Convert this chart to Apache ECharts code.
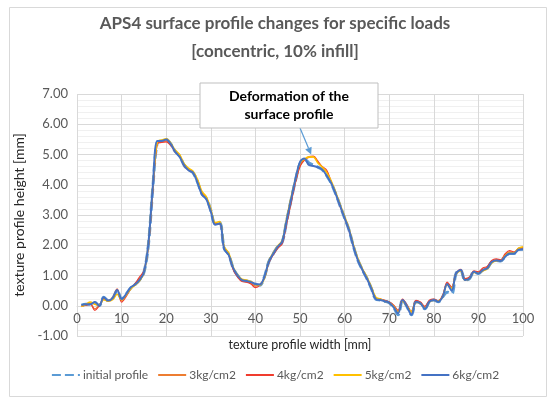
<!DOCTYPE html>
<html><head><meta charset="utf-8">
<script src="https://cdn.jsdelivr.net/npm/echarts@6/dist/echarts.min.js"></script>
<style>html,body{margin:0;padding:0;background:#fff}#c{width:550px;height:399px}</style>
</head><body><div id="c"></div>
<script>
const titleLines = ["APS4 surface profile changes for specific loads", "[concentric, 10% infill]"];
const xName = "texture profile width [mm]";
const yName = "texture profile height [mm]";
const seriesNames = ["initial profile", "3kg/cm2", "4kg/cm2", "5kg/cm2", "6kg/cm2"];
const annotationText = ["Deformation of the", "surface profile"];
const annotationPoint = [52.5, 5.0];

const widthMm = [1,2,3,4,5,6,7,8,9,10,11,12,13,14,15,16,17,18,19,20,21,22,23,24,25,26,27,28,29,30,31,32,33,34,35,36,37,38,39,40,41,42,43,44,45,46,47,48,49,50,51,52,53,54,55,56,57,58,59,60,61,62,63,64,65,66,67,68,69,70,71,72,73,74,75,76,77,78,79,80,81,82,83,84,85,86,87,88,89,90,91,92,93,94,95,96,97,98,99,100];

const initialProfile = [0.02,0.05,0.05,0.10,0.00,0.28,0.17,0.25,0.50,0.22,0.38,0.58,0.70,0.85,1.10,2.00,3.90,5.40,5.45,5.50,5.35,5.10,4.95,4.65,4.50,4.40,4.10,3.70,3.55,3.15,2.70,2.75,1.90,1.70,1.25,1.00,0.85,0.82,0.78,0.72,0.68,0.95,1.45,1.72,1.95,2.10,2.80,3.50,4.15,4.70,4.85,4.72,4.65,4.58,4.50,4.30,4.05,3.70,3.30,2.90,2.50,1.95,1.50,1.18,0.90,0.57,0.22,0.19,0.15,0.10,-0.05,-0.30,0.19,-0.03,-0.30,0.13,0.08,-0.10,0.13,0.19,0.13,0.30,0.45,0.40,1.07,1.18,0.85,0.90,1.12,1.07,1.18,1.24,1.45,1.50,1.48,1.62,1.73,1.73,1.87,1.87];

const load3 = [0.00,0.03,0.08,-0.10,0.02,0.25,0.18,0.28,0.55,0.18,0.35,0.58,0.72,0.90,1.12,1.95,3.85,5.38,5.42,5.45,5.35,5.12,4.98,4.68,4.52,4.42,4.15,3.75,3.58,3.18,2.72,2.72,1.92,1.72,1.22,0.98,0.82,0.80,0.75,0.65,0.70,0.90,1.40,1.70,1.92,2.08,2.72,3.42,4.10,4.62,4.82,4.90,4.92,4.75,4.58,4.42,4.08,3.72,3.32,2.92,2.52,1.98,1.52,1.20,0.92,0.60,0.25,0.22,0.17,0.12,0.00,-0.18,0.20,0.00,-0.22,0.15,0.10,-0.05,0.15,0.20,0.15,0.32,0.75,0.60,1.05,1.17,0.88,0.92,1.10,1.10,1.20,1.28,1.48,1.52,1.50,1.68,1.78,1.75,1.88,1.90];

const load4 = [-0.02,0.02,0.05,-0.15,0.00,0.22,0.15,0.25,0.55,0.12,0.30,0.55,0.72,0.95,1.15,1.98,3.82,5.35,5.40,5.42,5.30,5.08,4.95,4.62,4.48,4.40,4.12,3.72,3.55,3.12,2.70,2.70,1.88,1.68,1.20,0.95,0.80,0.78,0.72,0.60,0.68,0.92,1.42,1.68,1.90,2.05,2.70,3.40,4.08,4.60,4.82,4.93,4.95,4.78,4.60,4.48,4.10,3.72,3.28,2.90,2.48,1.95,1.50,1.18,0.90,0.58,0.24,0.22,0.18,0.12,0.02,-0.15,0.22,0.02,-0.18,0.18,0.12,-0.02,0.18,0.22,0.17,0.35,0.78,0.62,1.08,1.20,0.90,0.95,1.15,1.12,1.25,1.30,1.50,1.55,1.52,1.72,1.82,1.78,1.90,1.92];

const load5 = [-0.03,0.05,0.12,0.05,0.02,0.20,0.15,0.20,0.38,0.20,0.35,0.55,0.68,0.82,1.08,2.05,3.95,5.42,5.48,5.52,5.38,5.15,5.00,4.70,4.55,4.45,4.18,3.78,3.60,3.20,2.75,2.78,1.95,1.75,1.28,1.02,0.88,0.85,0.80,0.70,0.68,0.90,1.48,1.75,1.98,2.15,2.88,3.58,4.20,4.72,4.85,4.92,4.92,4.72,4.58,4.40,4.12,3.75,3.35,2.95,2.55,2.00,1.55,1.22,0.95,0.62,0.28,0.22,0.15,0.10,-0.02,-0.22,0.15,-0.02,-0.20,0.12,0.08,-0.08,0.12,0.18,0.15,0.30,0.70,0.58,1.05,1.15,0.85,0.90,1.10,1.08,1.15,1.22,1.42,1.48,1.48,1.65,1.75,1.75,1.90,1.95];

const load6 = [0.02,0.05,0.05,0.12,0.00,0.28,0.17,0.25,0.52,0.22,0.38,0.60,0.70,0.85,1.10,2.05,3.95,5.45,5.45,5.50,5.35,5.10,4.92,4.65,4.48,4.40,4.08,3.68,3.52,3.12,2.68,2.72,1.88,1.68,1.25,1.00,0.85,0.82,0.78,0.72,0.70,0.95,1.45,1.72,1.95,2.12,2.82,3.52,4.20,4.75,4.87,4.65,4.62,4.58,4.50,4.30,4.05,3.70,3.30,2.90,2.50,1.95,1.50,1.18,0.90,0.57,0.22,0.19,0.15,0.10,-0.05,-0.25,0.19,-0.03,-0.30,0.13,0.08,-0.10,0.13,0.19,0.13,0.30,0.72,0.50,1.07,1.18,0.85,0.90,1.12,1.07,1.18,1.24,1.45,1.50,1.48,1.62,1.73,1.73,1.85,1.87];

const seriesValues = [initialProfile, load3, load4, load5, load6];
const seriesColors = ['#5B9BD5', '#ED7D31', '#F03C2E', '#FFC000', '#4472C4'];
const seriesWidths = [3, 1.2, 1.2, 1.6, 2];

const FONT = 'Lato, "Open Sans", sans-serif';
const GRID = {left: 77, right: 27, top: 94, bottom: 63};
const Y_MIN = -1, Y_MAX = 7;
const chart = echarts.init(document.getElementById('c'), null, {renderer: 'canvas'});

// distance from grid bottom (y = Y_MIN) to the y = 0 line, so the x axis sits on zero
const plotH = 399 - GRID.top - GRID.bottom;
const zeroOffset = plotH * (0 - Y_MIN) / (Y_MAX - Y_MIN);

const series = seriesNames.map((n, i) => ({
  name: n,
  type: 'line',
  data: widthMm.map((x, k) => [x, seriesValues[i][k]]),
  symbol: 'none',
  showSymbol: false,
  smooth: 0.35,
  z: 2 + i,
  lineStyle: {color: seriesColors[i], width: seriesWidths[i], type: i === 0 ? [9, 4] : 'solid'},
  itemStyle: {color: seriesColors[i]},
  emphasis: {disabled: true},
  animation: false
}));

chart.setOption({
  animation: false,
  backgroundColor: '#ffffff',
  textStyle: {fontFamily: FONT},
  title: {
    text: titleLines.join('\n'),
    left: 'center', top: 5,
    textStyle: {fontFamily: FONT, fontSize: 17, fontWeight: 'bold', color: '#595959', lineHeight: 28}
  },
  grid: Object.assign({containLabel: false}, GRID),
  xAxis: {
    type: 'value', min: 0, max: 100, interval: 10,
    offset: -zeroOffset,
    name: xName, nameLocation: 'middle', nameGap: 33,
    nameTextStyle: {fontFamily: FONT, fontSize: 12.5, color: '#262626'},
    axisLine: {show: true, onZero: false, lineStyle: {color: '#d9d9d9', width: 1}},
    axisTick: {show: false},
    axisLabel: {fontFamily: FONT, fontSize: 13, color: '#595959', margin: 7},
    splitLine: {show: true, lineStyle: {color: '#d9d9d9', width: 1}}
  },
  yAxis: {
    type: 'value', min: Y_MIN, max: Y_MAX, interval: 1,
    name: yName, nameLocation: 'middle', nameGap: 46, nameRotate: 90,
    nameTextStyle: {fontFamily: FONT, fontSize: 14, color: '#262626'},
    axisLine: {show: false, onZero: false},
    axisTick: {show: false},
    axisLabel: {fontFamily: FONT, fontSize: 13, color: '#595959', margin: 9, formatter: v => v.toFixed(2)},
    splitLine: {show: true, lineStyle: {color: '#d9d9d9', width: 1}},
    minorTick: {show: false, splitNumber: 5},
    minorSplitLine: {show: true, lineStyle: {color: '#f0f0f0', width: 1}}
  },
  legend: {
    bottom: 13, left: 'center',
    itemWidth: 28, itemHeight: 10, itemGap: 9,
    itemStyle: {opacity: 0},
    textStyle: {fontFamily: FONT, fontSize: 12, color: '#595959', padding: [0, 0, 0, -2]},
    data: seriesNames
  },
  series: series
});

// annotation callout
const tip = chart.convertToPixel({gridIndex: 0}, annotationPoint);
const box = {x: 200, y: 83, w: 178, h: 45};
const start = [300, box.y + box.h];
const ang = Math.atan2(tip[1] - start[1], tip[0] - start[0]);
const ah = 7, aw = 3.5;
const base = [tip[0] - ah * Math.cos(ang), tip[1] - ah * Math.sin(ang)];
chart.setOption({
  graphic: [
    {type: 'rect', left: 7, top: 5, shape: {x: 0, y: 0, width: 537, height: 389}, style: {fill: 'none', stroke: '#d9d9d9', lineWidth: 1}, z: -10, silent: true},
    {type: 'line', shape: {x1: start[0], y1: start[1], x2: base[0], y2: base[1]}, style: {stroke: '#5B9BD5', lineWidth: 1.2}, z: 100},
    {type: 'polygon', shape: {points: [tip, [base[0] + aw * Math.sin(ang), base[1] - aw * Math.cos(ang)], [base[0] - aw * Math.sin(ang), base[1] + aw * Math.cos(ang)]]}, style: {fill: '#5B9BD5'}, z: 100},
    {type: 'rect', shape: {x: box.x, y: box.y, width: box.w, height: box.h}, style: {fill: '#ffffff', stroke: '#bfbfbf', lineWidth: 1}, z: 100},
    {type: 'text', x: box.x + box.w / 2, y: box.y + box.h / 2, style: {text: annotationText.join('\n'), fill: '#000000', font: 'bold 14px ' + FONT, align: 'center', verticalAlign: 'middle', lineHeight: 18}, z: 101}
  ]
});
</script></body></html>
